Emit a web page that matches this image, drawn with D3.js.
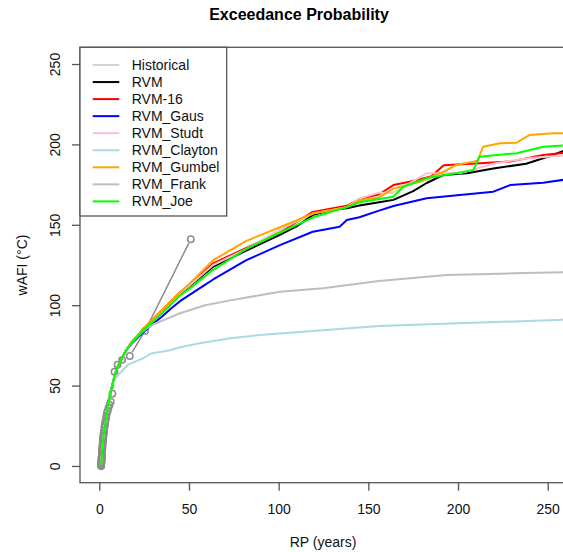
<!DOCTYPE html>
<html>
<head>
<meta charset="utf-8">
<script src="https://cdn.jsdelivr.net/npm/d3@7"></script>
<style>
  body { margin: 0; background: #ffffff; }
  text { font-family: "Liberation Sans", Arial, sans-serif; }
</style>
</head>
<body>
<svg id="chart" width="563" height="552"></svg>
<script>
// observed return periods (years) and wAFI values
var histRP = [51, 25.5, 17, 12.75, 10.2, 8.5, 7.29, 6.38, 5.67, 5.1, 4.64, 4.25, 3.92, 3.64, 3.4, 3.19, 3.0, 2.83, 2.68,
  2.55, 2.43, 2.32, 2.22, 2.13, 2.04, 1.96, 1.89, 1.82, 1.76, 1.7, 1.65, 1.59, 1.55, 1.5, 1.46, 1.42, 1.38, 1.34,
  1.31, 1.28, 1.24, 1.21, 1.19, 1.16, 1.13, 1.11, 1.09, 1.06, 1.04, 1.02];
var histVal = [141, 84, 68.4, 66, 63, 58.6, 45, 40, 38, 36, 34, 33, 31, 29, 28, 26, 25, 24, 22,
  21, 20, 19, 18, 17, 16, 15, 14, 13, 12, 11, 10.5, 10, 9, 8, 7.5, 7, 6, 5.5,
  5, 4.5, 4, 3.5, 3, 2.5, 2, 1.5, 1, 0.5, 0.2, 0];

// simulated series, [RP, wAFI]
var rvm = [[1,0],[1.3,5],[1.6,10],[2,15],[2.5,20],[3,24],[4,31],[5,38],[6,44],[7,49],[8.5,56],[10,61],[12.5,67],[15,72],
  [18,76.5],[22,81.5],[26,86],[30,91],[35,96.5],[40,102],[45,107],[50,111.5],[63.5,124],[82,134],[100.7,143.7],[110,149],
  [119,156],[128.6,159],[138,160.3],[145,162],[156,164],[164,165.5],[175,171],[182.5,176],[192,181],[205,182],
  [219.7,185],[238,188],[253,193.4],[262,197.5]];
var rvm16 = [[1,0],[1.3,5],[1.6,10],[2,15],[2.5,20],[3,24],[4,31],[5,38],[6,44],[7,49],[8.5,56],[10,61],[12.5,67],[15,72],
  [18,77],[22,82],[26,87],[30,91.5],[35,97],[40,102.5],[45,108],[50,112.5],[63.5,126],[82,135.7],[100.7,145.2],[119,158],
  [138,161.8],[145,166],[156,169],[164,174.7],[173,176.8],[185,180],[192,187],[210,188.2],[229,189.3],[247.5,193.4],[262,195]];
var rvmGaus = [[1,0],[1.3,5],[1.6,10],[2,15],[2.5,20],[3,24],[4,31],[5,38],[6,44],[7,49],[8.5,56],[10,61],[12.5,67],[15,72],
  [18,76],[22,80.5],[26,84.5],[30,88.5],[35,93],[40,98],[45,102.5],[58,112],[63.5,116],[82,128],[100.7,137.4],[119,145.7],
  [134,148.8],[138,153],[145,154.7],[156,158.8],[164,161.7],[182.5,166.5],[201,168.5],[219.7,170.6],[229,174.7],
  [247.5,176.2],[262,178.5]];
var rvmStudt = [[1,0],[1.3,5],[1.6,10],[2,15],[2.5,20],[3,24],[4,31],[5,38],[6,44],[7,49],[8.5,56],[10,61],[12.5,67],[15,72],
  [18,77],[22,82],[26,86.5],[30,91],[35,96.5],[40,102],[45,107.5],[50,112],[63.5,125],[82,135],[100.7,147],[119,157],[138,161],
  [145,166.4],[156,170],[164,170],[182.5,182],[201,182],[219.7,188],[238,191.3],[262,193.5]];
var rvmClayton = [[1,0],[1.3,5],[1.6,10],[2,15],[2.5,20],[3,24],[4,31],[5,38],[6,44],[7,49],[8,52],[9.7,55.5],[13.4,60],
  [16,63],[24.5,67],[29,70],[39.4,72],[45,73.8],[56,76.3],[72.9,79.4],[89.6,81.5],[119,84],[156,87],[200,88.7],
  [250,90.6],[262,91]];
var rvmGumbel = [[1,0],[1.3,5],[1.6,10],[2,15],[2.5,20],[3,24],[4,31],[5,38],[6,44],[7,49],[8.5,56],[10,61],[12.5,67],[15,72],
  [18,77],[22,82],[26,87],[30,91.5],[35,97],[40,102.5],[45,108],[50,113],[63.5,128],[82,140],[100.7,148.5],[119,157],[138,161],
  [145,165.3],[156,167],[164,172.5],[178.8,176.8],[192,183],[199,187.2],[208.5,189.3],[211,190],[214,198.6],
  [223.4,200.7],[232.7,201.1],[240,205.9],[253,206.9],[262,207]];
var rvmFrank = [[1,0],[1.3,5],[1.6,10],[2,15],[2.5,20],[3,24],[4,31],[5,38],[6,44],[7,49],[8.5,56],[10,61],[12.5,67],[15,72],
  [18,76.5],[22.7,82],[26.4,85.6],[30,88],[38.5,92],[45,95],[59,100],[73,103],[100.7,108.4],[124.7,110.5],[156,115],
  [193.6,118.8],[231,119.8],[262,120.5]];
var rvmJoe = [[1,0],[1.3,5],[1.6,10],[2,15],[2.5,20],[3,24],[4,31],[5,38],[6,44],[7,49],[8.5,56],[10,61],[12.5,67],[15,72],
  [18,76.5],[22,81.5],[26,86],[30,90],[35,95],[40,100.5],[45,106],[50,110],[63.5,122],[82,135],[100.7,145.2],[119,154.5],[138,161],
  [145,164],[164,167.5],[169.5,173.7],[182.5,179],[208.5,184],[212,192.4],[232.7,194.5],[247.5,198.6],[262,199.6]];

var seriesNames = ["Historical", "RVM", "RVM-16", "RVM_Gaus", "RVM_Studt", "RVM_Clayton", "RVM_Gumbel", "RVM_Frank", "RVM_Joe"];
var seriesColors = ["#d3d3d3", "#000000", "#ff0000", "#0000ff", "#ffc0cb", "#add8e6", "#ffa500", "#bebebe", "#00ff00"];
var seriesData = [null, rvm, rvm16, rvmGaus, rvmStudt, rvmClayton, rvmGumbel, rvmFrank, rvmJoe];

var xTicks = [0, 50, 100, 150, 200, 250];
var yTicks = [0, 50, 100, 150, 200, 250];

var plot = {"left": 80, "right": 566, "top": 47.3, "bottom": 482.7};

var svg = d3.select("#chart");

var x = d3.scaleLinear().domain([-10.76, 260.2]).range([plot.left, plot.right]);
var y = d3.scaleLinear().domain([-10.4, 260.4]).range([plot.bottom, plot.top]);

svg.append("defs").append("clipPath")
  .attr("id", "plotClip")
  .append("rect")
  .attr("x", plot.left)
  .attr("y", plot.top)
  .attr("width", plot.right - plot.left)
  .attr("height", plot.bottom - plot.top);

var g = svg.append("g").attr("clip-path", "url(#plotClip)");

// historical points, drawn R type "b" style (line with gaps round the points)
var hist = histRP.map((d, i) => [x(d), y(histVal[i])]).sort((a, b) => a[0] - b[0] || a[1] - b[1]);
var gap = 4.5;
for (var i = 0; i < hist.length - 1; i++) {
  var p = hist[i], q = hist[i + 1];
  var dx = q[0] - p[0], dy = q[1] - p[1];
  var len = Math.sqrt(dx * dx + dy * dy);
  if (len <= 2 * gap) continue;
  g.append("line")
    .attr("x1", p[0] + dx / len * gap)
    .attr("y1", p[1] + dy / len * gap)
    .attr("x2", q[0] - dx / len * gap)
    .attr("y2", q[1] - dy / len * gap)
    .style("stroke", "#8c8c8c")
    .style("stroke-width", 1.5);
}
g.selectAll(".histPoint")
  .data(histRP)
  .enter()
  .append("circle")
  .attr("class", "histPoint")
  .attr("cx", d => x(d))
  .attr("cy", (d, i) => y(histVal[i]))
  .attr("r", 3.2)
  .style("fill", "none")
  .style("stroke", "#8c8c8c")
  .style("stroke-width", 1.5);

// model curves
var line = d3.line()
  .x(d => x(d[0]))
  .y(d => y(d[1]));

seriesData.forEach(function (s, i) {
  if (!s) return;
  g.append("path")
    .attr("d", line(s))
    .style("fill", "none")
    .style("stroke", seriesColors[i])
    .style("stroke-width", 2)
    .style("stroke-linejoin", "round");
});

// box
svg.append("rect")
  .attr("x", plot.left)
  .attr("y", plot.top)
  .attr("width", plot.right - plot.left)
  .attr("height", plot.bottom - plot.top)
  .style("fill", "none")
  .style("stroke", "#555")
  .style("stroke-width", 1.3);

// x axis
var xAxis = svg.append("g")
  .attr("transform", "translate(0," + plot.bottom + ")")
  .call(d3.axisBottom(x).tickValues(xTicks).tickSize(8).tickPadding(13).tickFormat(d3.format("d")));
xAxis.select(".domain").remove();
xAxis.selectAll("line").style("stroke", "#555").style("stroke-width", 1.3);
xAxis.selectAll("text").style("font-size", "14px").style("font-family", "Liberation Sans, Arial, sans-serif").attr("fill", "#111");

// y axis (labels parallel to axis, like R)
var yAxis = svg.append("g")
  .attr("transform", "translate(" + plot.left + ",0)")
  .call(d3.axisLeft(y).tickValues(yTicks).tickSize(8).tickFormat(""));
yAxis.select(".domain").remove();
yAxis.selectAll("line").style("stroke", "#555").style("stroke-width", 1.3);
yAxis.selectAll(".tick").append("text")
  .attr("transform", "translate(-20,0) rotate(-90)")
  .attr("text-anchor", "middle")
  .attr("fill", "#111")
  .style("font-size", "14px")
  .text(d => d);

// titles
svg.append("text")
  .attr("x", 299)
  .attr("y", 20)
  .attr("text-anchor", "middle")
  .style("font-size", "16px")
  .style("font-weight", "bold")
  .text("Exceedance Probability");

svg.append("text")
  .attr("x", 323)
  .attr("y", 547)
  .attr("text-anchor", "middle")
  .style("font-size", "14px")
  .attr("fill", "#111")
  .text("RP (years)");

svg.append("text")
  .attr("transform", "translate(27,265) rotate(-90)")
  .attr("text-anchor", "middle")
  .style("font-size", "14px")
  .attr("fill", "#111")
  .text("wAFI (°C)");

// legend
var legend = svg.append("g");
legend.append("rect")
  .attr("x", plot.left)
  .attr("y", plot.top)
  .attr("width", 146.7)
  .attr("height", 168.7)
  .style("fill", "#ffffff")
  .style("stroke", "#555")
  .style("stroke-width", 1.3);

var item = legend.selectAll(".legendItem")
  .data(seriesNames)
  .enter()
  .append("g")
  .attr("class", "legendItem")
  .attr("transform", (d, i) => "translate(0," + (65 + i * 17.05) + ")");

item.append("line")
  .attr("x1", 92.7)
  .attr("x2", 119.3)
  .style("stroke", (d, i) => seriesColors[i])
  .style("stroke-width", 2);

item.append("text")
  .attr("x", 131.7)
  .attr("dy", "0.36em")
  .style("font-size", "14px")
  .attr("fill", "#111")
  .text(d => d);
</script>
</body>
</html>
